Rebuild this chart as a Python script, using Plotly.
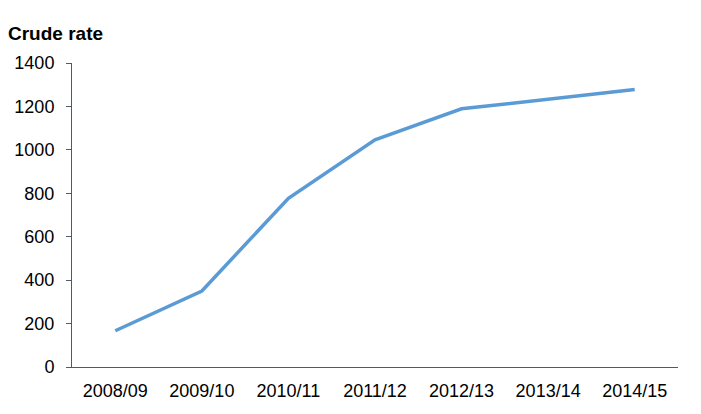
import plotly.graph_objects as go

YEARS = ["2008/09", "2009/10", "2010/11", "2011/12", "2012/13", "2013/14", "2014/15"]
CRUDE_RATE = [167, 350, 777, 1046, 1189, 1233, 1278]
Y_TICKS = [0, 200, 400, 600, 800, 1000, 1200, 1400]

FONT = "Liberation Sans, Arial, sans-serif"
AXIS_COL = "#4d5a69"

# page body has an 8px margin, so the figure is sized/placed to compensate
W, H = 685, 398

fig = go.Figure(go.Scatter(
    x=YEARS, y=CRUDE_RATE, mode="lines",
    line=dict(color="#5b9bd5", width=3.5),
    hoverinfo="x+y",
))

fig.update_xaxes(
    type="category", range=[-0.5, len(YEARS) - 0.5],
    showline=True, linecolor=AXIS_COL, linewidth=1,
    ticks="", showgrid=False, zeroline=False, automargin=False,
    tickfont=dict(family=FONT, size=18, color="#000"),
    ticklabelstandoff=7,
)
fig.update_yaxes(
    range=[0, 1400], tickvals=Y_TICKS, showline=True, linecolor=AXIS_COL,
    linewidth=1, ticks="outside", ticklen=5, tickcolor=AXIS_COL,
    showgrid=False, zeroline=False, automargin=False,
    tickfont=dict(family=FONT, size=18, color="#000"),
    ticklabelstandoff=8,
)

fig.update_layout(
    title=dict(text="<b>Crude rate</b>", xref="container", yref="container",
               x=0, xanchor="left", y=1 - 25 / H, yanchor="middle",
               font=dict(family=FONT, size=19, color="#000")),
    width=W, height=H,
    margin=dict(l=64, r=15, t=55, b=39, pad=0),
    plot_bgcolor="white", paper_bgcolor="white",
    showlegend=False,
)

fig.write_html("out.html")
